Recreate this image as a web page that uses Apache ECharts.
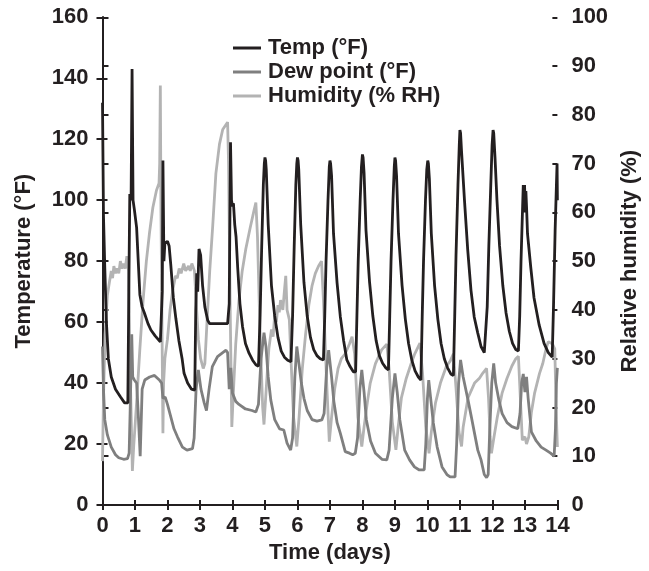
<!DOCTYPE html>
<html>
<head>
<meta charset="utf-8">
<script src="https://cdn.jsdelivr.net/npm/echarts@6/dist/echarts.min.js"></script>
<style>
html,body{margin:0;padding:0;background:#fff;}
#chart{width:649px;height:571px;}
</style>
</head>
<body>
<div id="chart"></div>
<script>
// [time (days), temperature (°F)]
const tempData = [
[0,132],[0.03,95],[0.07,78],[0.12,60],[0.18,48],[0.27,42],[0.4,38],[0.55,35.5],[0.68,33.5],[0.78,33.5],
[0.81,70],[0.84,102],[0.88,100],[0.91,143],[0.94,100],[0.98,97],[1.05,91],[1.1,80],[1.15,69],[1.22,65],[1.29,63],[1.4,59.5],[1.49,57.4],[1.62,55.5],[1.78,53.5],
[1.84,70],[1.86,113],[1.89,80],[1.92,86],[2.0,86.5],[2.05,85],[2.1,79],[2.18,68],[2.26,61],[2.35,54],[2.45,48],[2.51,43.2],[2.62,40],[2.74,38],[2.84,37.7],
[2.87,64],[2.9,76],[2.93,70],[2.97,84],[3.02,82],[3.08,72],[3.15,65],[3.24,60.5],[3.3,59.5],[3.6,59.5],[3.85,59.5],
[3.9,66],[3.94,119],[3.97,100],[4.0,98],[4.03,99],[4.07,92],[4.11,88],[4.16,78],[4.23,66],[4.31,58.5],[4.4,53],[4.51,49.8],[4.62,47.5],[4.72,46],[4.8,45.5],
[4.85,62],[4.9,85],[4.95,105],[4.98,112],[5.0,114],[5.02,113],[5.04,110],[5.1,92],[5.2,72],[5.3,62],[5.4,55],[5.5,50.5],[5.6,48.5],[5.7,47.5],[5.8,47],
[5.85,62],[5.9,85],[5.95,105],[5.98,112],[6.0,114],[6.02,113],[6.04,110],[6.1,92],[6.2,73],[6.3,62],[6.4,55],[6.5,51],[6.6,49],[6.7,48],[6.8,47.6],
[6.84,62],[6.88,80],[6.94,100],[6.98,111],[7.0,113],[7.02,112],[7.05,108],[7.11,89],[7.22,72.8],[7.32,61.7],[7.42,54],[7.52,47.6],[7.62,45.4],[7.72,43.7],[7.79,43.7],
[7.83,62],[7.87,80],[7.93,100],[7.97,111],[8.0,115],[8.02,114],[8.05,109],[8.11,90],[8.22,73],[8.32,62],[8.42,54],[8.52,49],[8.62,46.5],[8.72,45],[8.8,44.3],
[8.84,62],[8.88,80],[8.94,100],[8.98,111],[9.0,114],[9.02,113],[9.05,108],[9.11,89],[9.22,72],[9.32,61],[9.42,53],[9.52,47.5],[9.62,44],[9.72,42],[9.8,41],
[9.84,62],[9.88,80],[9.94,100],[9.98,110],[10.01,113],[10.03,112],[10.06,107],[10.12,89],[10.22,72],[10.32,61],[10.42,53],[10.52,48],[10.62,45],[10.72,43],[10.8,42.5],
[10.84,62],[10.88,82],[10.94,105],[10.98,118],[11.0,123],[11.02,122],[11.05,116],[11.14,100],[11.24,83.7],[11.34,70.5],[11.44,61.7],[11.55,56.4],[11.65,52],[11.75,50],[11.8,49.5],
[11.84,65],[11.89,85],[11.95,105],[11.99,118],[12.02,123],[12.04,122],[12.08,114],[12.14,100],[12.22,85],[12.32,72],[12.42,63],[12.52,57],[12.62,53],[12.72,51],[12.8,50.5],
[12.84,62],[12.88,80],[12.93,98],[12.95,105],[12.97,96],[12.99,105],[13.01,96],[13.03,103],[13.05,98],[13.08,89],[13.18,78],[13.28,68],[13.44,59],[13.59,53],[13.72,50],[13.84,48.5],
[13.88,65],[13.93,90],[13.97,105],[13.99,112],[14.0,100]
];

// [time (days), dew point (°F)]
const dewData = [
[0,52],[0.03,38],[0.07,28],[0.15,23],[0.27,19],[0.4,16.5],[0.5,15.5],[0.65,15],[0.77,15.2],[0.82,17],[0.86,35],[0.9,56],[0.93,42],[0.98,41],[1.05,40],[1.1,30],[1.16,16],[1.19,16],[1.22,38],[1.3,41],[1.45,42],[1.6,42.5],[1.75,41],[1.82,40],[1.86,35],[1.93,35.4],[2.0,33],[2.1,29],[2.2,25],[2.31,22.3],[2.46,19],[2.6,18],[2.77,18.5],[2.82,22],[2.88,38],[2.95,44.3],[3.03,38],[3.13,33.5],[3.2,31],[3.24,31],[3.28,38],[3.38,45.4],[3.54,48.7],[3.7,50],[3.8,50.8],[3.85,50],[3.9,38],[3.95,45],[4.0,36.7],[4.1,34],[4.2,33],[4.4,31.5],[4.6,31],[4.72,30.5],[4.8,33],[4.88,48],[4.97,56.5],[5.03,52],[5.1,42],[5.18,34.4],[5.3,28],[5.45,25],[5.58,24.6],[5.68,20.3],[5.79,18],[5.85,22],[5.92,42],[5.98,52],[6.05,46],[6.12,40],[6.2,35],[6.3,31],[6.45,28],[6.6,27.5],[6.75,27.9],[6.82,30],[6.9,45],[6.96,50.8],[7.05,42],[7.12,34],[7.22,27],[7.32,23.5],[7.47,17.5],[7.6,17],[7.7,16.5],[7.78,17],[7.85,22],[7.92,38],[7.98,44.3],[8.05,37],[8.12,28],[8.25,21],[8.4,17],[8.6,15],[8.75,14.8],[8.82,18],[8.92,35],[9.0,43.2],[9.07,37],[9.15,28],[9.3,18],[9.45,14.8],[9.6,12.5],[9.75,11.5],[9.9,11.5],[9.95,20],[10.0,35],[10.04,41],[10.1,35],[10.18,27],[10.3,19],[10.45,12.5],[10.6,10],[10.7,9.2],[10.85,9.2],[10.9,20],[10.96,40],[11.02,47.6],[11.1,42],[11.25,34.4],[11.35,29],[11.45,23.5],[11.55,18],[11.65,14.8],[11.75,10],[11.82,9],[11.87,10],[11.92,25],[11.98,40],[12.04,46.5],[12.1,40],[12.2,34.4],[12.3,30],[12.45,27],[12.6,25.7],[12.78,25],[12.85,30],[12.9,40],[12.95,43],[13.0,37],[13.05,42],[13.1,35],[13.2,24],[13.35,21],[13.5,19],[13.65,18],[13.79,17],[13.9,16],[13.94,25],[13.97,40],[14.0,45]
];

// [time (days), relative humidity (%)]
const humidityData = [
[0,9],[0.03,22],[0.08,35],[0.15,43],[0.22,46],[0.27,48],[0.31,46.5],[0.35,49],[0.4,47.5],[0.45,48.5],[0.5,47.5],[0.55,50],[0.6,48.5],[0.65,49.5],[0.7,48.5],[0.75,51],[0.8,48],[0.86,25],[0.92,7],[0.96,12],[1.05,21],[1.15,32],[1.25,42],[1.35,50],[1.45,56],[1.55,61],[1.66,64.5],[1.74,66],[1.76,70],[1.78,86],[1.8,60],[1.84,30],[1.86,14.7],[1.88,25],[1.92,30],[2.0,34],[2.08,40],[2.16,44],[2.25,47],[2.3,46.5],[2.36,48.5],[2.42,47.5],[2.5,49.5],[2.56,48],[2.65,49],[2.7,48],[2.75,49.5],[2.83,48],[2.88,42],[2.95,34],[3.02,30],[3.1,28],[3.15,29],[3.22,38],[3.3,48],[3.39,57],[3.49,68],[3.6,74],[3.7,77],[3.85,78.5],[3.88,70],[3.93,40],[3.98,16],[4.02,22],[4.1,33],[4.2,42],[4.3,48],[4.41,52.5],[4.55,57],[4.65,60],[4.72,62],[4.77,55],[4.85,35],[4.93,20],[4.97,16.5],[5.05,25],[5.12,32],[5.2,36],[5.25,34.5],[5.3,39],[5.35,37.5],[5.4,41],[5.44,39.5],[5.48,42],[5.55,40],[5.6,44],[5.64,47],[5.68,40],[5.75,38],[5.8,30],[5.88,18],[5.98,12],[6.05,18],[6.15,28],[6.25,35],[6.35,41],[6.45,45],[6.55,47.5],[6.65,49],[6.74,50],[6.8,42],[6.9,25],[6.98,13],[7.05,18],[7.15,24],[7.25,28],[7.35,30],[7.47,31],[7.6,33],[7.68,34.5],[7.76,31],[7.86,18],[7.98,12],[8.05,16],[8.15,21],[8.24,25],[8.4,29],[8.59,31.8],[8.75,33],[8.82,28],[8.92,17],[9.03,11.3],[9.1,16],[9.2,22],[9.35,26],[9.5,29],[9.61,31],[9.77,33.2],[9.85,27],[9.95,16],[10.05,10.6],[10.12,15],[10.25,21],[10.4,25],[10.58,28.4],[10.7,29.5],[10.8,31],[10.88,24],[10.97,15],[11.05,12],[11.1,16],[11.25,22],[11.45,25],[11.6,26],[11.7,27],[11.82,28],[11.88,22],[11.93,14],[11.97,10.6],[12.05,14],[12.15,18],[12.3,23],[12.45,26],[12.6,28.5],[12.72,30],[12.8,30.5],[12.86,22],[12.92,13.3],[13.0,14],[13.05,12.5],[13.12,14],[13.2,19],[13.3,23],[13.45,27],[13.55,29],[13.65,32],[13.72,33.5],[13.85,33],[13.92,32],[13.96,20],[14.0,11.9]
];

const seriesNames = ['Temp (\u00B0F)', 'Dew point (\u00B0F)', 'Humidity (% RH)'];
const seriesColors = ['#231f20', '#7f7f7f', '#b3b3b3'];

const FONT = 'Liberation Sans, Arial, sans-serif';
const INK = '#231f20';
const labelStyle = { color: INK, fontFamily: FONT, fontWeight: 'bold', fontSize: 22 };
const lineStyleAxis = { show: true, lineStyle: { color: INK, width: 2 } };

const chart = echarts.init(document.getElementById('chart'), null, { renderer: 'canvas' });

chart.setOption({
  animation: false,
  backgroundColor: '#ffffff',
  grid: { left: 102.5, right: 89, top: 17.3, bottom: 66, containLabel: false },
  legend: {
    data: seriesNames,
    orient: 'vertical',
    left: 228,
    top: 31,
    itemWidth: 28,
    itemHeight: 3,
    itemGap: 0,
    icon: 'rect',
    textStyle: { color: INK, fontFamily: FONT, fontWeight: 'bold', fontSize: 22, lineHeight: 24, padding: [0, 0, 0, 2] }
  },
  xAxis: [
    {
      type: 'value', min: 0, max: 14, interval: 1,
      name: 'Time (days)', nameLocation: 'middle', nameGap: 34,
      nameTextStyle: labelStyle,
      axisLine: lineStyleAxis,
      axisTick: { show: true, length: 5, lineStyle: { color: INK, width: 2 } },
      axisLabel: Object.assign({ margin: 10 }, labelStyle),
      splitLine: { show: false }
    },
    {
      type: 'value', min: 0, max: 14, interval: 1, position: 'bottom',
      axisLine: { show: false },
      axisTick: { show: true, inside: true, length: 5, lineStyle: { color: INK, width: 2 } },
      axisLabel: { show: false }, splitLine: { show: false }
    }
  ],
  yAxis: [
    {
      type: 'value', min: 0, max: 160, interval: 20, position: 'left',
      name: 'Temperature (\u00B0F)', nameLocation: 'middle', nameGap: 68, nameRotate: 90,
      nameTextStyle: labelStyle,
      axisLine: lineStyleAxis,
      axisTick: { show: true, length: 6, lineStyle: { color: INK, width: 2 } },
      axisLabel: Object.assign({ margin: 14 }, labelStyle),
      splitLine: { show: false }
    },
    {
      type: 'value', min: 0, max: 100, interval: 10, position: 'right',
      name: 'Relative humidity (%)', nameLocation: 'middle', nameGap: 57, nameRotate: 90,
      nameTextStyle: labelStyle,
      axisLine: lineStyleAxis,
      axisTick: { show: true, length: 6, lineStyle: { color: INK, width: 2 } },
      axisLabel: Object.assign({ margin: 14 }, labelStyle),
      splitLine: { show: false }
    },
    {
      type: 'value', min: 0, max: 160, interval: 20, position: 'left',
      axisLine: { show: false },
      axisTick: { show: true, inside: true, length: 5, lineStyle: { color: INK, width: 2 } },
      axisLabel: { show: false }, splitLine: { show: false }
    },
    {
      type: 'value', min: 0, max: 100, interval: 10, position: 'right',
      axisLine: { show: false },
      axisTick: { show: true, inside: true, length: 5, lineStyle: { color: INK, width: 2 } },
      axisLabel: { show: false }, splitLine: { show: false }
    }
  ],
  series: [
    {
      name: seriesNames[2], type: 'line', xAxisIndex: 0, yAxisIndex: 1, data: humidityData,
      symbol: 'none', lineStyle: { color: seriesColors[2], width: 2.8 }, itemStyle: { color: seriesColors[2] }, z: 2
    },
    {
      name: seriesNames[1], type: 'line', xAxisIndex: 0, yAxisIndex: 0, data: dewData,
      symbol: 'none', lineStyle: { color: seriesColors[1], width: 2.8 }, itemStyle: { color: seriesColors[1] }, z: 3
    },
    {
      name: seriesNames[0], type: 'line', xAxisIndex: 0, yAxisIndex: 0, data: tempData,
      symbol: 'none', lineStyle: { color: seriesColors[0], width: 2.8 }, itemStyle: { color: seriesColors[0] }, z: 4
    }
  ]
});
</script>
</body>
</html>
